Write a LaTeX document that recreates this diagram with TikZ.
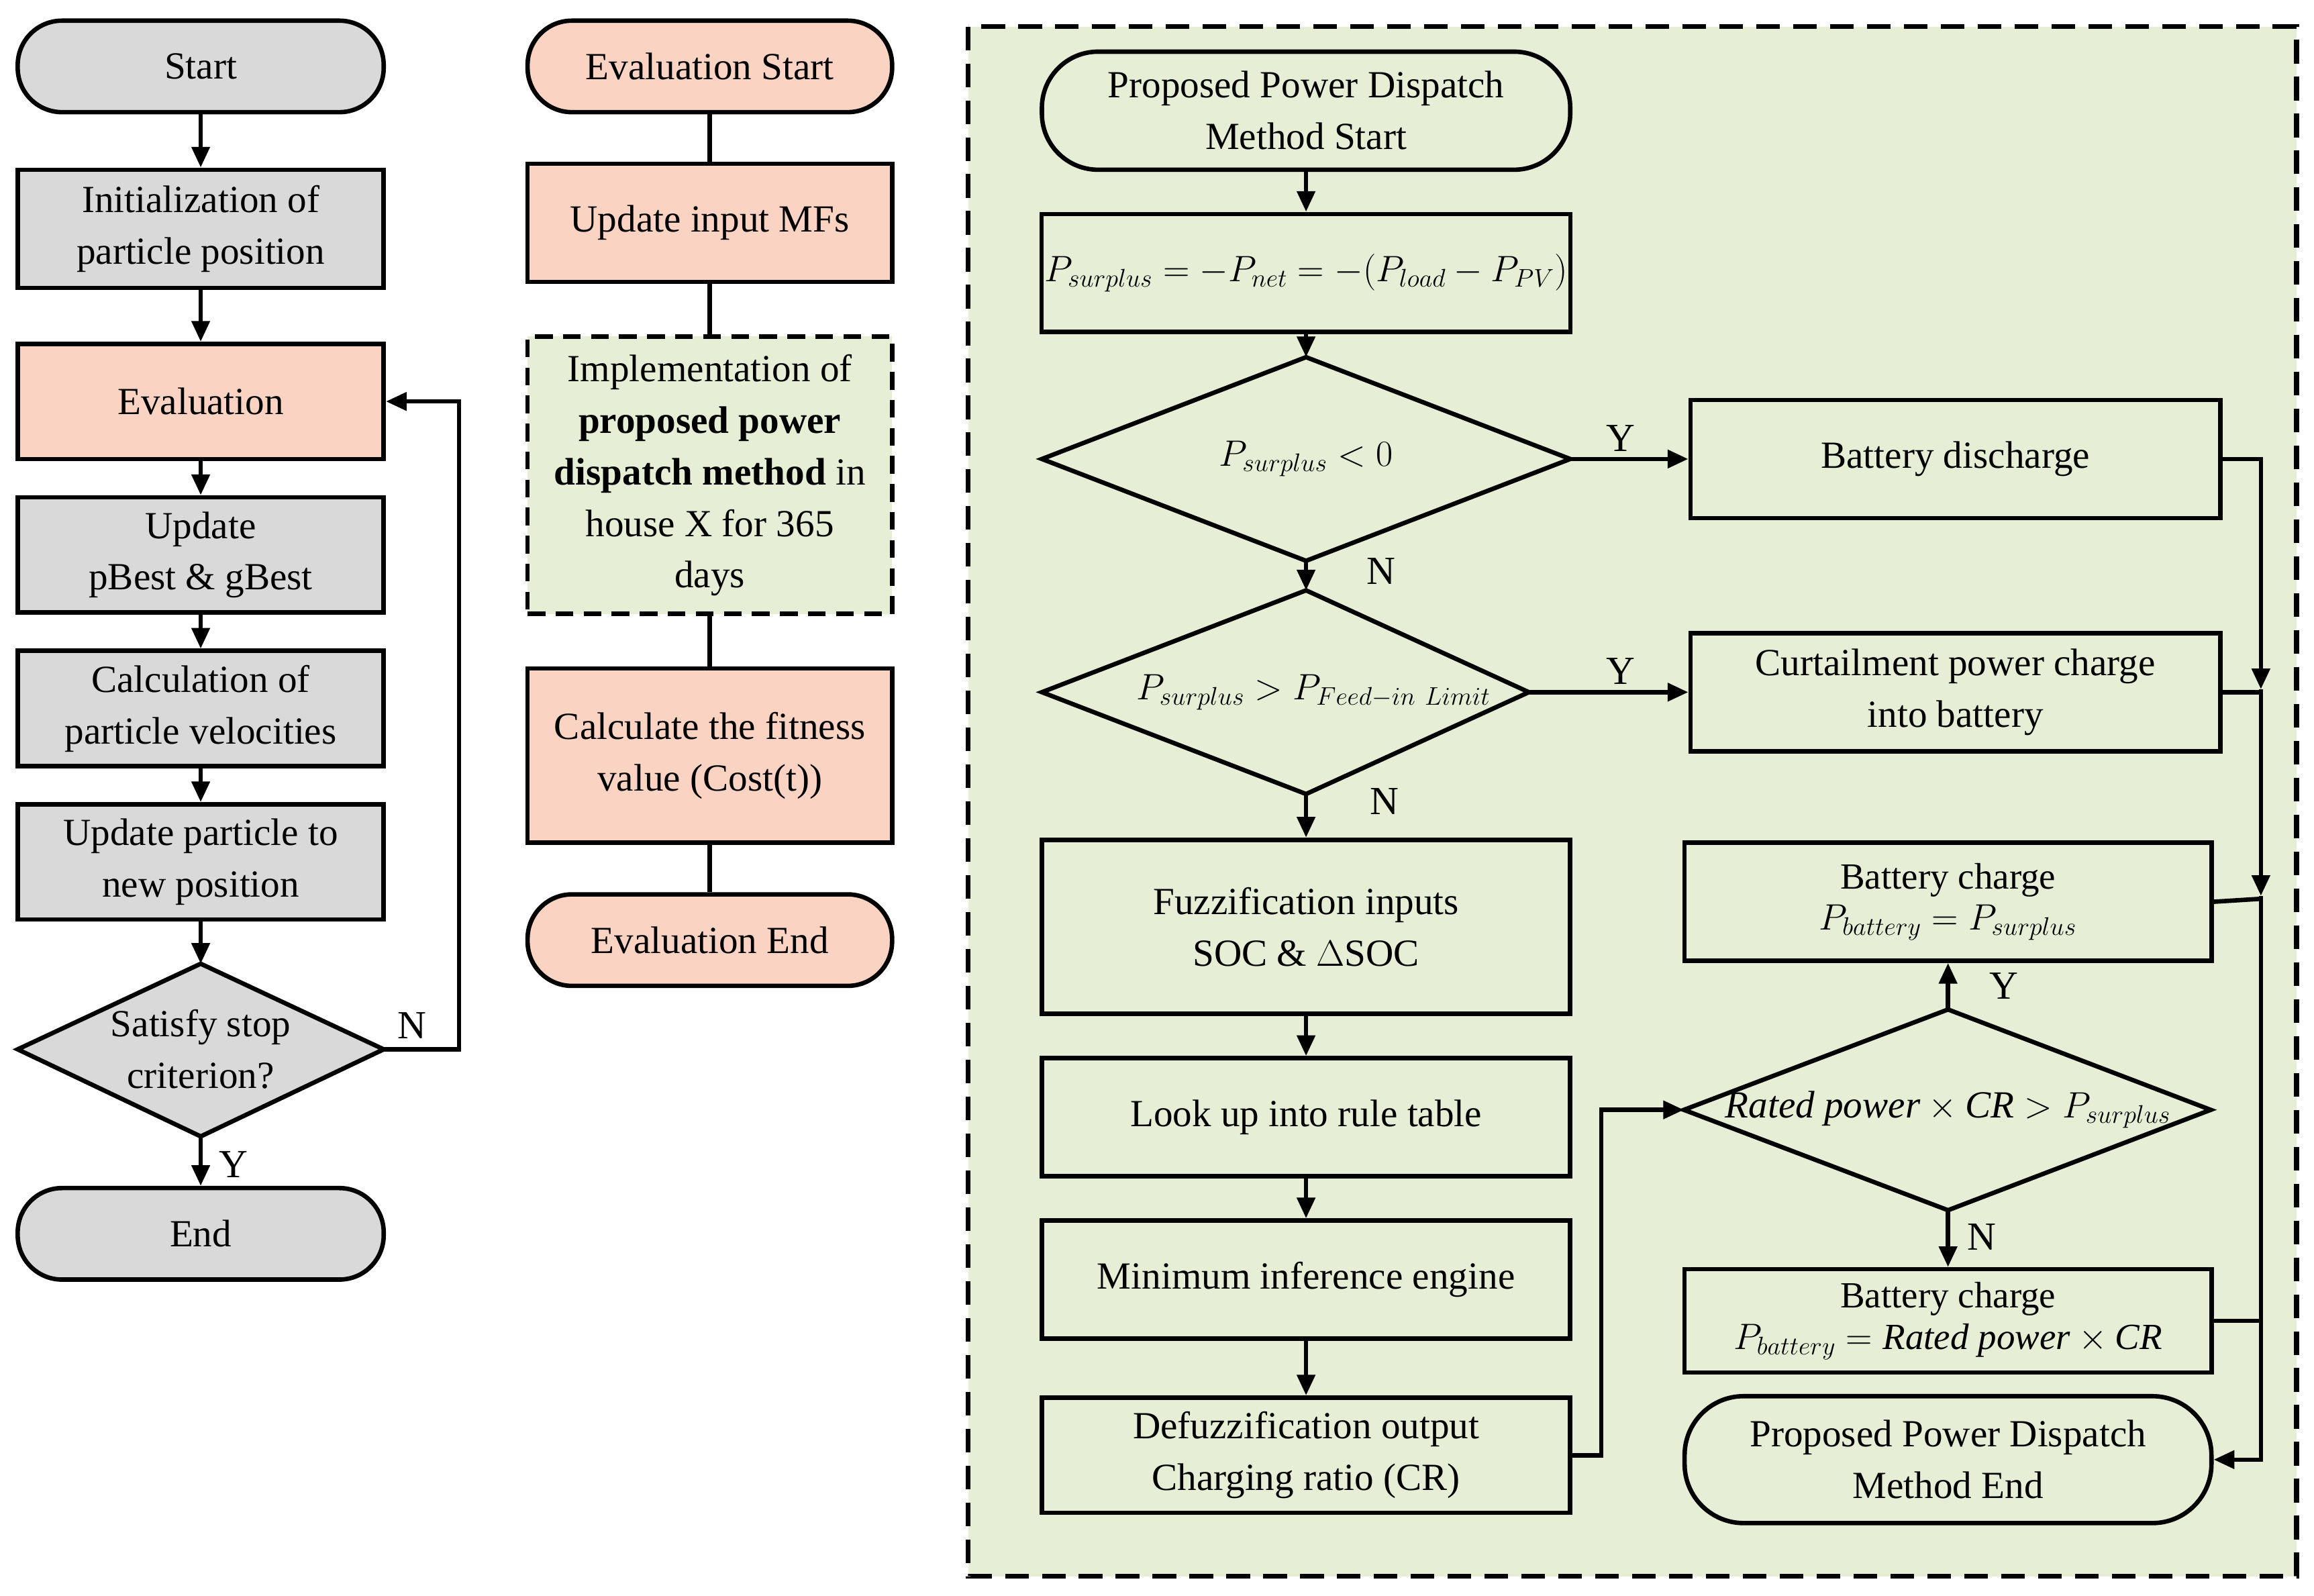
\documentclass[tikz,border=0pt]{standalone}
\usepackage{fontspec}
\setmainfont{Liberation Serif}
\usetikzlibrary{arrows.meta}
\definecolor{gr}{HTML}{D9D9D9}
\definecolor{sal}{HTML}{FAD3C3}
\definecolor{grn}{HTML}{E6EED6}
\begin{document}
\begin{tikzpicture}[x=1pt,y=-1pt,line width=3pt,
 font=\fontsize{26}{35}\selectfont,
 bx/.style={draw,rectangle,align=center,inner sep=2pt},
 arr/.style={-{Triangle[length=14pt,width=12pt]}},
 lbl/.style={font=\fontsize{27}{30}\selectfont}]
\useasboundingbox (0,0) rectangle (1568,1081);
\tikzset{rr/.style={draw,rounded corners=30pt,align=center}}
% Left column
\node[rr,fill=gr,minimum width=248,minimum height=62] (s) at (136,45) {Start};
\node[bx,fill=gr,minimum width=248,minimum height=80] (i) at (136,155) {Initialization of\\particle position};
\node[bx,fill=sal,minimum width=248,minimum height=78] (e) at (136,272) {Evaluation};
\node[bx,fill=gr,minimum width=248,minimum height=78] (u) at (136,376) {Update\\pBest \& gBest};
\node[bx,fill=gr,minimum width=248,minimum height=78] (c) at (136,480) {Calculation of\\particle velocities};
\node[bx,fill=gr,minimum width=248,minimum height=78] (up) at (136,584) {Update particle to\\new position};
\coordinate (dt) at (136,653); \coordinate (dl) at (12,711); \coordinate (dr) at (260,711); \coordinate (db) at (136,770);
\draw[fill=gr] (dt)--(dr)--(db)--(dl)--cycle;
\node[align=center] (dtx) at (136,711) {Satisfy stop\\criterion?};
\node[rr,fill=gr,minimum width=248,minimum height=62] (en) at (136,836) {End};
\draw[arr] (s)--(i); \draw[arr] (i)--(e); \draw[arr] (e)--(u); \draw[arr] (u)--(c); \draw[arr] (c)--(up); \draw[arr] (up)--(dt);
\draw[arr] (db)--(en);
\draw[arr] (dr)--(311,711)--(311,272)--(e.east);
\node[lbl] (ln) at (279,695) {N};
\node[lbl] (ly) at (158,789) {Y};
% Middle column
\node[rr,fill=sal,minimum width=247,minimum height=62] (es) at (481,45) {Evaluation Start};
\node[bx,fill=sal,minimum width=247,minimum height=80] (mf) at (481,151) {Update input MFs};
\node[bx,fill=grn,dash pattern=on 12pt off 7pt,minimum width=247,minimum height=188,inner sep=0pt] (im) at (481,322) {Implementation of\\\textbf{proposed power}\\\textbf{dispatch method} in\\house X for 365\\days};
\node[bx,fill=sal,minimum width=247,minimum height=118] (cf) at (481,512) {Calculate the fitness\\value (Cost(t))};
\node[rr,fill=sal,minimum width=247,minimum height=62] (ee) at (481,637) {Evaluation End};
\draw (es)--(mf); \draw (mf)--(im); \draw (im)--(cf); \draw (cf)--(ee);
% Right panel
\draw[fill=grn,dash pattern=on 16pt off 9pt,line width=3.5pt] (656,18) rectangle (1556,1068);
\node[rr,fill=grn,rounded corners=38pt,minimum width=358,minimum height=80] (ps) at (885,75) {Proposed Power Dispatch\\Method Start};
\node[bx,fill=grn,minimum width=358,minimum height=80] (eq) at (885,185) {$P_{surplus}=-P_{net}=-(P_{load}-P_{PV})$};
\coordinate (a1t) at (885,242); \coordinate (a1l) at (706,311); \coordinate (a1r) at (1064,311); \coordinate (a1b) at (885,380);
\draw (a1t)--(a1r)--(a1b)--(a1l)--cycle;
\node (a1x) at (885,311) {$P_{surplus}<0$};
\coordinate (a2t) at (885,400); \coordinate (a2l) at (706,469); \coordinate (a2r) at (1036,469); \coordinate (a2b) at (885,538);
\draw (a2t)--(a2r)--(a2b)--(a2l)--cycle;
\node (a2x) at (890,469) {$P_{surplus}>P_{Feed-in\ Limit}$};
\node[bx,minimum width=358,minimum height=118] (fz) at (885,628) {Fuzzification inputs\\SOC \& $\Delta$SOC};
\node[bx,minimum width=358,minimum height=80] (lu) at (885,757) {Look up into rule table};
\node[bx,minimum width=358,minimum height=80] (mi) at (885,867) {Minimum inference engine};
\node[bx,minimum width=358,minimum height=78] (df) at (885,986) {Defuzzification output\\Charging ratio (CR)};
\node[bx,minimum width=359,minimum height=80] (bd) at (1325,311) {Battery discharge};
\node[bx,minimum width=359,minimum height=80] (cu) at (1325,469) {Curtailment power charge\\into battery};
\node[bx,minimum width=357,minimum height=80,font=\fontsize{25}{28}\selectfont] (b1) at (1320,611) {Battery charge\\$P_{battery}=P_{surplus}$};
\coordinate (a3t) at (1320,684); \coordinate (a3l) at (1141,752); \coordinate (a3r) at (1498,752); \coordinate (a3b) at (1320,820);
\draw (a3t)--(a3r)--(a3b)--(a3l)--cycle;
\node (a3x) at (1320,752) {$\mathit{Rated\ power}\times \mathit{CR}>P_{surplus}$};
\node[bx,minimum width=357,minimum height=70,font=\fontsize{25}{28}\selectfont] (b2) at (1320,895) {Battery charge\\$P_{battery}=\mathit{Rated\ power}\times \mathit{CR}$};
\node[rr,rounded corners=40pt,minimum width=357,minimum height=86] (pe) at (1320,989) {Proposed Power Dispatch\\Method End};
\draw[arr] (ps)--(eq); \draw[arr] (eq)--(a1t); \draw[arr] (a1b)--(a2t); \draw[arr] (a2b)--(fz);
\draw[arr] (fz)--(lu); \draw[arr] (lu)--(mi); \draw[arr] (mi)--(df);
\draw[arr] (a1r)--(bd.west); \draw[arr] (a2r)--(cu.west);
\draw[arr] (df.east)--(1085,986)--(1085,752)--(a3l);
\draw[arr] (a3t)--(b1.south); \draw[arr] (a3b)--(b2.north);
\draw[arr] (bd.east)--(1532,311)--(1532,467);
\draw[arr] (1532,467)--(1532,607);
\draw[arr] (1532,607)--(1532,989)--(pe.east);
\draw (cu.east)--(1532,469); \draw (b1.east)--(1532,609); \draw (b2.east)--(1532,895);
\node[lbl] (y1) at (1098,297) {Y}; \node[lbl] (n1) at (936,387) {N};
\node[lbl] (y2) at (1098,455) {Y}; \node[lbl] (n2) at (938,543) {N};
\node[lbl] (y3) at (1358,668) {Y}; \node[lbl] (n3) at (1343,838) {N};
\end{tikzpicture}
\end{document}
